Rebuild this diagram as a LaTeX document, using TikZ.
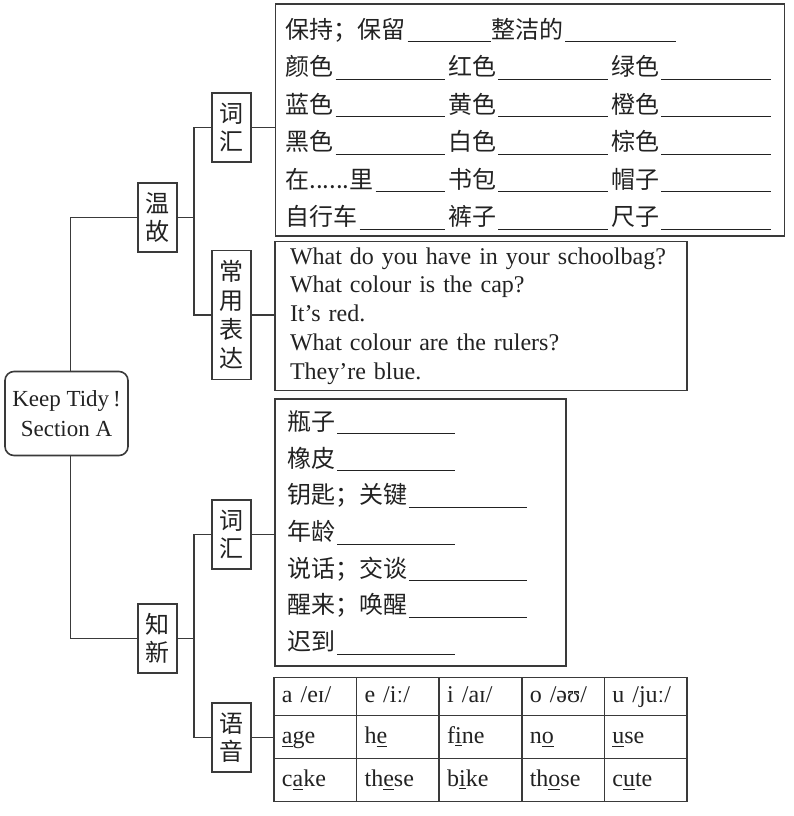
\documentclass[tikz,border=0pt]{standalone}
\usepackage{fontspec}
\setmainfont{Liberation Serif}
\newfontfamily\zh{Noto Sans CJK SC}
\usepackage{tikz}
\usetikzlibrary{matrix}
\definecolor{ink}{HTML}{3A3A3A}
\definecolor{txt}{HTML}{222222}
\newcommand{\blank}[1]{\hspace{1pt}\rule[-2pt]{#1}{0.5pt}}
\newcommand{\fillblank}{\hspace{1pt}\leaders\hrule height -1.5pt depth 2pt\hfill\kern1.5pt}
\newcommand{\cellw}[1]{\makebox[81.5pt][l]{#1\fillblank}}
\tikzset{
  rootbox/.style={rectangle, rounded corners=4.5pt, draw=ink, line width=0.8pt, text=txt,
                  align=center, font=\fontsize{11.5}{15}\selectfont,
                  minimum width=61.5pt, minimum height=42pt},
  tag/.style={rectangle, draw=ink, line width=0.8pt, text=txt, align=center,
              font=\zh\fontsize{12}{14}\selectfont, inner sep=2pt,
              minimum width=19.5pt, minimum height=34.5pt},
  panel/.style={rectangle, draw=ink, line width=0.8pt, text=txt, align=left, inner ysep=3pt},
  cellbox/.style={rectangle, draw=ink, line width=0.8pt, text=txt, align=left,
                  font=\fontsize{12}{14}\selectfont, inner xsep=4pt, inner ysep=0pt,
                  text width=33.3pt, minimum width=41.3pt, minimum height=21.5pt,
                  text height=9pt, text depth=3pt},
  link/.style={line width=0.8pt, draw=ink},
}
\begin{document}
\begin{tikzpicture}[x=0.5pt, y=-0.5pt]
  \useasboundingbox (0,0) rectangle (794,816);
  % root and the two halves
  \node[rootbox] (root) at (66.5,413.5) {Keep Tidy\,!\\Section A};
  \node[tag] (wengu) at (157.5,217.5) {温\\故};
  \node[tag] (zhixin) at (157.5,638.5) {知\\新};
  \node[tag] (ci1) at (231.5,127.5) {词\\汇};
  \node[tag, minimum height=64.5pt, font=\zh\fontsize{12}{14.5}\selectfont] (cy) at (231.5,315) {常\\用\\表\\达};
  \node[tag] (ci2) at (231.5,534.5) {词\\汇};
  \node[tag] (yy) at (231.5,737.5) {语\\音};
  % panels
  \node[panel, text width=244.5pt, inner xsep=5pt, minimum height=115pt,
        font=\zh\fontsize{12}{18.75}\selectfont] (voc1) at (530,120)
    {\rule{0pt}{14pt}保持；保留\blank{42pt}整洁的\blank{55.5pt}\\
     \cellw{颜色}\cellw{红色}\cellw{绿色}\\
     \cellw{蓝色}\cellw{黄色}\cellw{橙色}\\
     \cellw{黑色}\cellw{白色}\cellw{棕色}\\
     \cellw{在......里}\cellw{书包}\cellw{帽子}\\
     \cellw{自行车}\cellw{裤子}\cellw{尺子}};
  \node[panel, text width=191pt, inner xsep=7.5pt, minimum height=74pt,
        font=\fontsize{12}{14.4}\selectfont] (expr) at (481,316)
    {What do you have in your schoolbag?\\
     What colour is the cap?\\
     It’s red.\\
     What colour are the rulers?\\
     They’re blue.};
  \node[panel, text width=133.5pt, inner xsep=6pt, minimum height=133.5pt,
        font=\zh\fontsize{12}{18.35}\selectfont] (voc2) at (420.5,532.5)
    {瓶子\blank{59pt}\\
     橡皮\blank{59pt}\\
     钥匙；关键\blank{59pt}\\
     年龄\blank{59pt}\\
     说话；交谈\blank{59pt}\\
     醒来；唤醒\blank{59pt}\\
     迟到\blank{59pt}};
  \matrix (pron) [matrix of nodes, inner sep=0pt, column sep=-0.8pt, row sep=-0.8pt,
                  nodes={cellbox}, row 1/.style={nodes={minimum height=19pt}}] at (480.5,739.5)
  {
    a /eɪ/ & e /iː/ & i /aɪ/ & o /əʊ/ & u /juː/ \\
    \underline{a}ge & h\underline{e} & f\underline{i}ne & n\underline{o} & \underline{u}se \\
    c\underline{a}ke & th\underline{e}se & b\underline{i}ke & th\underline{o}se & c\underline{u}te \\
  };
  % connectors
  \draw[link] ([xshift=2pt]root.north) |- (wengu.west);
  \draw[link] ([xshift=2pt]root.south) |- (zhixin.west);
  \draw[link] (wengu.east) -- ++(8pt,0) |- (ci1.west);
  \draw[link] (wengu.east) -- ++(8pt,0) |- (cy.west);
  \draw[link] (zhixin.east) -- ++(8pt,0) |- (ci2.west);
  \draw[link] (zhixin.east) -- ++(8pt,0) |- (yy.west);
  \draw[link] (ci1.east) -- (ci1.east -| voc1.west);
  \draw[link] (cy.east) -- (cy.east -| expr.west);
  \draw[link] (ci2.east) -- (ci2.east -| voc2.west);
  \draw[link] (yy.east) -- (yy.east -| pron.west);
\end{tikzpicture}
\end{document}
